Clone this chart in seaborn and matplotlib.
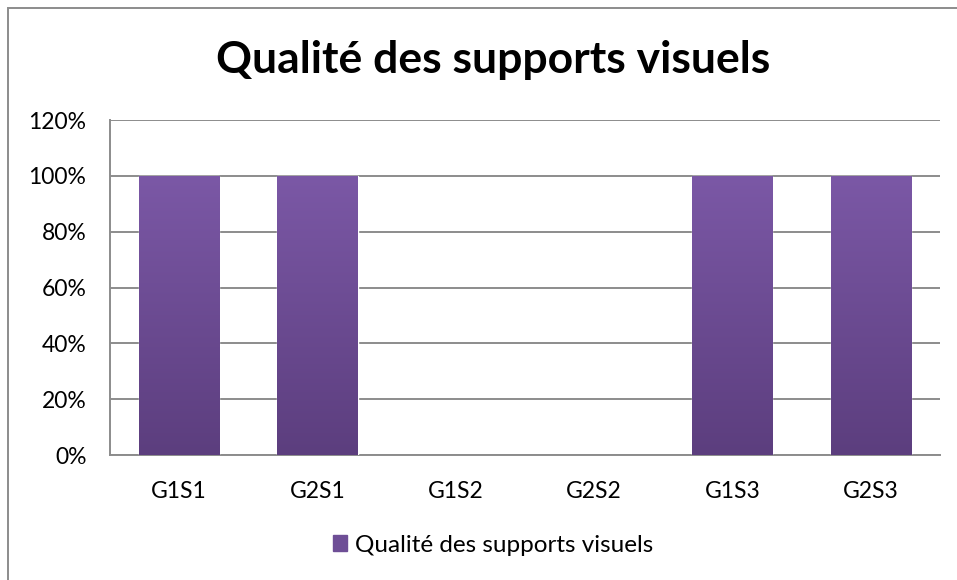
import numpy as np
import pandas as pd
import matplotlib.pyplot as plt
import matplotlib.colors as mcolors
import seaborn as sns

categories = ['G1S1', 'G2S1', 'G1S2', 'G2S2', 'G1S3', 'G2S3']
values = [100, 100, 0, 0, 100, 100]
series_name = 'Qualité des supports visuels'
yticks = [0, 20, 40, 60, 80, 100, 120]

df = pd.DataFrame({'groupe': categories, 'valeur': values})

sns.set_style('white')
plt.rcParams['font.family'] = ['Lato', 'DejaVu Sans']
plt.rcParams['text.color'] = 'black'
plt.rcParams['xtick.color'] = 'black'
plt.rcParams['ytick.color'] = 'black'

fig = plt.figure(figsize=(9.57, 5.80), dpi=100)
ax = fig.add_axes([0.115, 0.2155, 0.867, 0.5775])

top_col = '#7B58A6'
bot_col = '#5C3E7E'
sns.barplot(data=df, x='groupe', y='valeur', color=top_col, width=0.58,
            saturation=1, ax=ax, zorder=3)

# gradient fill inside each bar
cmap = mcolors.LinearSegmentedColormap.from_list('grad', [bot_col, top_col])
grad = np.linspace(0, 1, 256).reshape(-1, 1)
for p in ax.patches:
    h = p.get_height()
    if h <= 0:
        p.set_visible(False)
        continue
    x0 = p.get_x()
    w = p.get_width()
    im = ax.imshow(grad, cmap=cmap, origin='lower', aspect='auto',
                   extent=[x0, x0 + w, 0, h], zorder=3.5)
    im.set_clip_path(p)

ax.set_xlim(-0.5, len(categories) - 0.5)
ax.set_ylim(0, 120)
ax.set_yticks(yticks)
ax.set_yticklabels([f'{t}%' for t in yticks])
ax.set_xlabel('')
ax.set_ylabel('')
ax.grid(axis='y', color='#8C8C8C', linewidth=1.4, zorder=0)
ax.set_axisbelow(True)
for s in ['top', 'right']:
    ax.spines[s].set_visible(False)
for s in ['left', 'bottom']:
    ax.spines[s].set_color('#8C8C8C')
    ax.spines[s].set_linewidth(1.4)
ax.tick_params(axis='both', length=0, labelsize=16.5)
ax.tick_params(axis='x', pad=19)
ax.tick_params(axis='y', pad=17)

fig.text(0.515, 0.875, 'Qualité des supports visuels', ha='center', va='baseline',
         fontsize=32, fontweight='bold')

handle = plt.Rectangle((0, 0), 1, 1, color='#6E4E96')
fig.legend([handle], [series_name], loc='center', bbox_to_anchor=(0.515, 0.06),
           frameon=False, fontsize=17.5, handlelength=0.6, handleheight=0.6,
           handletextpad=0.3)

border = plt.Rectangle((8 / 957, -0.1), 1.1, 1 - 8 / 580 + 0.1, transform=fig.transFigure,
                       fill=False, edgecolor='#8C8C8C', linewidth=1.4, clip_on=False)
fig.patches.append(border)

fig.savefig('out.png', dpi=100)
